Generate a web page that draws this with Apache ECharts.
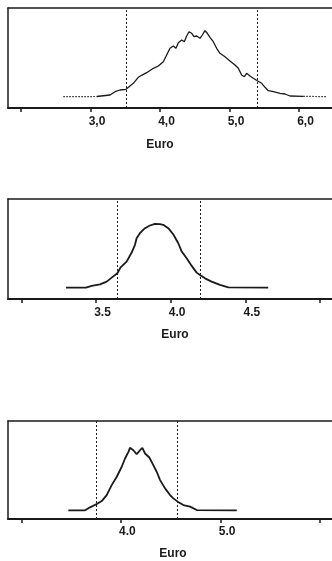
<!DOCTYPE html>
<html>
<head>
<meta charset="utf-8">
<script src="https://cdn.jsdelivr.net/npm/echarts@6/dist/echarts.min.js"></script>
<style>
html,body{margin:0;padding:0;background:#fff;}
#chart{width:332px;height:561px;}
</style>
</head>
<body>
<div id="chart"></div>
<script>
// ---- Panel 1 (x in Euro, y = relative density) ----
const tailLeft1X = [2.609, 3.089];
const tailLeft1Y = [0.3, 0.5];
const euro1 = [3.089, 3.281, 3.353, 3.424, 3.511, 3.568, 3.616, 3.688, 3.736, 3.808, 3.904, 3.976, 4.048, 4.096, 4.144, 4.192, 4.230, 4.264, 4.312, 4.350, 4.384, 4.417, 4.456, 4.489, 4.528, 4.576, 4.609, 4.647, 4.681, 4.719, 4.767, 4.815, 4.863, 4.935, 5.007, 5.079, 5.127, 5.175, 5.213, 5.247, 5.295, 5.343, 5.400, 5.463, 5.511, 5.559, 5.631, 5.727, 5.799, 5.871, 6.062];
const dens1 = [0.5, 2, 5.3, 7, 7.7, 11, 13.7, 19.7, 21.7, 24.3, 28.7, 31, 35.3, 42, 48.7, 51, 48.7, 54.3, 57, 55.3, 61, 65.3, 63.7, 60.3, 61, 58.7, 62, 66.3, 63.7, 59.7, 55.3, 48.7, 43.7, 40.3, 36, 32, 28.7, 22, 20.3, 23.7, 21, 18.7, 16.3, 13.7, 9.7, 6.3, 5.3, 3.7, 3, 1, 0.7];
const tailRight1X = [6.062, 6.40];
const tailRight1Y = [0.7, 0.3];
const quant1 = [3.51, 5.40];
const ticks1 = [2, 3, 4, 5, 6];
const labels1 = [3, 4, 5, 6];

// ---- Panel 2 ----
const euro2 = [3.299, 3.433, 3.471, 3.527, 3.572, 3.605, 3.643, 3.665, 3.705, 3.739, 3.761, 3.772, 3.794, 3.828, 3.861, 3.895, 3.928, 3.950, 3.984, 4.017, 4.051, 4.074, 4.107, 4.141, 4.174, 4.196, 4.230, 4.274, 4.330, 4.386, 4.653];
const dens2 = [0, 0, 1.7, 3.3, 6, 10, 14.3, 20.3, 26, 35, 42.7, 49.3, 54.3, 59.3, 62, 63.7, 63.3, 62.7, 59.3, 53.3, 44.3, 36, 29.3, 21.7, 15, 12.7, 9.3, 6, 2.7, 0.3, 0];
const quant2 = [3.643, 4.196];
const ticks2 = [3.0, 3.5, 4.0, 4.5, 5.0];
const labels2 = [3.5, 4.0, 4.5];

// ---- Panel 3 ----
const euro3 = [3.472, 3.640, 3.690, 3.757, 3.807, 3.857, 3.907, 3.958, 4.008, 4.041, 4.075, 4.091, 4.125, 4.158, 4.192, 4.215, 4.242, 4.285, 4.325, 4.359, 4.393, 4.443, 4.493, 4.526, 4.570, 4.627, 4.694, 4.761, 5.163];
const dens3 = [0, 0, 3, 6.3, 9.3, 15.3, 25.3, 33.7, 43.7, 52, 58.7, 62.7, 60.3, 56.3, 60.3, 62.7, 57, 53, 45.3, 38.7, 30.3, 22, 15.3, 12, 8.7, 5.3, 3.7, 0.3, 0];
const quant3 = [3.747, 4.570];
const ticks3 = [3, 4, 5, 6];
const labels3 = [4, 5];

const axisTitle = 'Euro';

const zip = (xs, ys) => xs.map((x, i) => [x, ys[i]]);
const FONT = '"Liberation Sans", Arial, sans-serif';
const INK = '#1a1a1a';

function xAxisFor(idx, min, max, ticks, labels, fmt, namePad, nameGap, labelMargin) {
  return {
    type: 'value', gridIndex: idx, min: min, max: max, position: 'bottom',
    splitLine: {show: false},
    axisLine: {show: true, onZero: false, lineStyle: {color: INK, width: 2}},
    axisTick: {show: true, inside: false, length: 4, customValues: ticks, lineStyle: {color: INK, width: 1.5}},
    axisLabel: {show: true, customValues: labels, formatter: fmt, margin: labelMargin,
      color: INK, fontFamily: FONT, fontWeight: 'bold', fontSize: 12, padding: [0, 0, 0, 13]},
    name: axisTitle, nameLocation: 'middle', nameGap: nameGap,
    nameTextStyle: {color: INK, fontFamily: FONT, fontWeight: 'bold', fontSize: 12, padding: namePad}
  };
}
function topAxisFor(idx, min, max) {
  return {
    type: 'value', gridIndex: idx, min: min, max: max, position: 'top',
    splitLine: {show: false},
    axisLine: {show: true, onZero: false, lineStyle: {color: INK, width: 1.5}},
    axisTick: {show: false}, axisLabel: {show: false}
  };
}
function yAxisFor(idx, min, max) {
  return {type: 'value', gridIndex: idx, min: min, max: max, position: 'left',
    splitLine: {show: false},
    axisLine: {show: true, onZero: false, lineStyle: {color: INK, width: 1.5}},
    axisTick: {show: false}, axisLabel: {show: false}};
}
function quantLines(q) {
  return {
    silent: true, symbol: ['none', 'none'], label: {show: false},
    lineStyle: {color: INK, type: [2, 2], width: 1},
    data: q.map(v => ({xAxis: v}))
  };
}
function line(idx, data, width, type, extra) {
  return Object.assign({
    type: 'line', xAxisIndex: idx, yAxisIndex: idx, data: data,
    showSymbol: false, symbol: 'none', smooth: false,
    lineStyle: {color: INK, width: width, type: type}
  }, extra || {});
}

const chart = echarts.init(document.getElementById('chart'), null, {renderer: 'canvas'});
chart.setOption({
  animation: false,
  backgroundColor: '#ffffff',
  grid: [
    {left: 8, top: 8, right: 0, height: 100, show: false},
    {left: 8, top: 199, right: 0, height: 100, show: false},
    {left: 8, top: 421, right: 0, height: 98, show: false}
  ],
  xAxis: [
    xAxisFor(0, 1.813, 6.475, ticks1, labels1, v => v.toFixed(1).replace('.', ','), [0, 20, 0, 0], 31, 8),
    xAxisFor(1, 2.911, 5.080, ticks2, labels2, v => v.toFixed(1), [0, 0, 0, 10], 30, 8),
    xAxisFor(2, 2.866, 6.119, ticks3, labels3, v => v.toFixed(1), [0, 0, 0, 6], 29, 7),
    topAxisFor(0, 1.813, 6.475),
    topAxisFor(1, 2.911, 5.080),
    topAxisFor(2, 2.866, 6.119)
  ],
  yAxis: [
    yAxisFor(0, -11, 89),
    yAxisFor(1, -11.3, 88.4),
    yAxisFor(2, -8.7, 89.6)
  ],
  series: [
    line(0, zip(tailLeft1X, tailLeft1Y), 1.2, [1.5, 1.5]),
    line(0, zip(euro1, dens1), 1.3, 'solid', {markLine: quantLines(quant1)}),
    line(0, zip(tailRight1X, tailRight1Y), 1.2, [1.5, 1.5]),
    line(1, zip(euro2, dens2), 1.8, 'solid', {markLine: quantLines(quant2)}),
    line(2, zip(euro3, dens3), 1.8, 'solid', {markLine: quantLines(quant3)})
  ]
});
</script>
</body>
</html>
